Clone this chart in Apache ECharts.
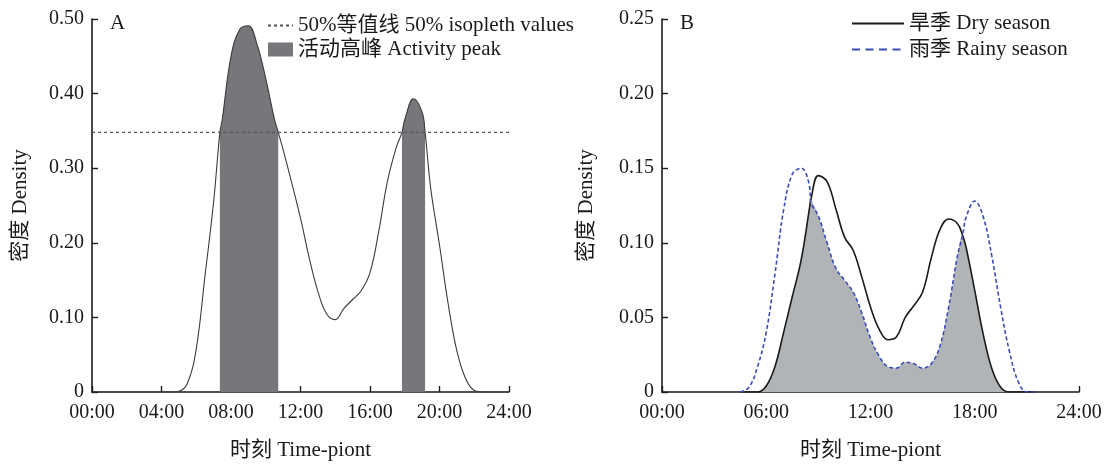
<!DOCTYPE html>
<html>
<head>
<meta charset="utf-8">
<script src="https://cdn.jsdelivr.net/npm/echarts@6/dist/echarts.min.js"></script>
<style>html,body{margin:0;padding:0;background:#fff;}#c{width:1109px;height:466px;}</style>
</head>
<body>
<div id="c"></div>
<script>
// ---------- Panel A data ----------
const hoursA = [0, 4.5, 5.0, 5.5, 6.0, 6.5, 7.0, 7.36, 7.5, 8.0, 8.5, 9.0, 9.5, 10.0, 10.5, 10.72, 11.0, 11.5, 12.0, 12.5, 13.0, 13.5, 14.0, 14.5, 15.0, 15.5, 16.0, 16.5, 17.0, 17.5, 17.84, 18.0, 18.5, 19.0, 19.17, 19.5, 20.0, 20.5, 21.0, 21.5, 22.0, 22.5, 24];
const densityA = [0, 0, 0.001, 0.012, 0.058, 0.155, 0.255, 0.348, 0.366, 0.45, 0.486, 0.491, 0.466, 0.42, 0.366, 0.348, 0.325, 0.28, 0.233, 0.18, 0.135, 0.105, 0.097, 0.112, 0.124, 0.136, 0.16, 0.215, 0.282, 0.327, 0.348, 0.365, 0.393, 0.375, 0.348, 0.272, 0.197, 0.118, 0.055, 0.018, 0.002, 0, 0];
const isoplethValue = 0.348;
const isoplethRange = [0, 24];
const peakBands = [[7.36, 10.72], [17.84, 19.17]];

// ---------- Panel B data ----------
const hoursB = [4.5, 5.0, 5.5, 6.0, 6.5, 7.0, 7.5, 8.0, 8.5, 8.55, 9.0, 9.5, 10.0, 10.5, 11.0, 11.5, 12.0, 12.5, 13.0, 13.5, 14.0, 14.5, 15.0, 15.5, 16.0, 16.5, 17.0, 17.3, 17.5, 18.0, 18.5, 19.0, 19.5, 20.0, 20.5, 21.0, 21.5];
const drySeason = [0, 0, 0, 0.004, 0.017, 0.040, 0.064, 0.088, 0.124, 0.128, 0.145, 0.141, 0.123, 0.104, 0.095, 0.077, 0.057, 0.042, 0.035, 0.037, 0.050, 0.058, 0.067, 0.090, 0.109, 0.116, 0.113, 0.105, 0.097, 0.068, 0.038, 0.015, 0.003, 0, 0, 0, 0];
const rainySeason = [0, 0.003, 0.017, 0.040, 0.079, 0.122, 0.146, 0.150, 0.137, 0.128, 0.118, 0.100, 0.083, 0.075, 0.067, 0.053, 0.036, 0.024, 0.017, 0.016, 0.020, 0.019, 0.016, 0.019, 0.031, 0.057, 0.091, 0.105, 0.117, 0.128, 0.117, 0.090, 0.056, 0.027, 0.007, 0, 0];

const xTickLabel = v => String(Math.round(v)).padStart(2, '0') + ':00';

const FONT = "'Liberation Serif', 'Times New Roman', 'Noto Sans CJK SC', serif";
const TXT = '#1a1a1a';

const seriesA = hoursA.map((h, i) => [h, densityA[i]]);
const bandData = peakBands.map(([a, b]) => seriesA.filter(p => p[0] >= a && p[0] <= b));
const dryData = hoursB.map((h, i) => [h, drySeason[i]]);
const rainyData = hoursB.map((h, i) => [h, rainySeason[i]]);
const overlapData = hoursB.map((h, i) => [h, Math.min(drySeason[i], rainySeason[i])]);

const NAME_ISO = '50%等值线 50% isopleth values';
const NAME_PEAK = '活动高峰 Activity peak';
const NAME_DRY = '旱季 Dry season';
const NAME_RAINY = '雨季 Rainy season';
const HIDE_SYMBOL = { color: 'rgba(0,0,0,0)', borderWidth: 0, opacity: 0 };

function xAxis(gridIndex, interval) {
  return {
    type: 'value', gridIndex, min: 0, max: 24, interval,
    name: '时刻 Time-piont', nameLocation: 'middle', nameGap: 48,
    nameTextStyle: { fontFamily: FONT, fontSize: 21, color: TXT },
    axisLine: { show: true, lineStyle: { color: '#1a1a1a', width: 1.6 } },
    axisTick: { show: true, inside: true, length: 6, lineStyle: { color: '#1a1a1a', width: 1.4 } },
    axisLabel: { formatter: xTickLabel, fontFamily: FONT, fontSize: 20, color: TXT, margin: 11 },
    splitLine: { show: false }
  };
}
function yAxis(gridIndex, max, interval, nameGap) {
  return {
    type: 'value', gridIndex, min: 0, max, interval,
    name: '密度 Density', nameLocation: 'middle', nameGap,
    nameTextStyle: { fontFamily: FONT, fontSize: 21, color: TXT },
    axisLine: { show: true, lineStyle: { color: '#1a1a1a', width: 1.6 } },
    axisTick: { show: true, inside: true, length: 6, lineStyle: { color: '#1a1a1a', width: 1.4 } },
    axisLabel: { formatter: v => v === 0 ? '0' : v.toFixed(2), fontFamily: FONT, fontSize: 20, color: TXT, margin: 8 },
    splitLine: { show: false }
  };
}

const chart = echarts.init(document.getElementById('c'), null, { renderer: 'canvas' });
chart.setOption({
  animation: false,
  backgroundColor: '#fff',
  title: [
    { text: 'A', left: 105, top: 8, textStyle: { fontFamily: FONT, fontSize: 21, fontWeight: 'normal', color: TXT } },
    { text: 'B', left: 675, top: 8, textStyle: { fontFamily: FONT, fontSize: 21, fontWeight: 'normal', color: TXT } }
  ],
  grid: [
    { left: 92, right: 600, top: 19, bottom: 71 },
    { left: 662, right: 30, top: 19, bottom: 71 }
  ],
  xAxis: [xAxis(0, 4), xAxis(1, 6)],
  yAxis: [yAxis(0, 0.5, 0.1, 61), yAxis(1, 0.25, 0.05, 65)],
  legend: [
    {
      orient: 'vertical', left: 267, top: 15, padding: 0, itemWidth: 25, itemHeight: 14, itemGap: 3,
      textStyle: { fontFamily: FONT, fontSize: 21, color: TXT },
      selectedMode: false,
      data: [
        { name: NAME_ISO, itemStyle: HIDE_SYMBOL },
        { name: NAME_PEAK, icon: 'rect' }
      ]
    },
    {
      orient: 'vertical', left: 851, top: 13, padding: 0, itemWidth: 52, itemHeight: 14, itemGap: 5,
      textStyle: { fontFamily: FONT, fontSize: 21, color: TXT },
      selectedMode: false,
      data: [
        { name: NAME_DRY, itemStyle: HIDE_SYMBOL },
        { name: NAME_RAINY, itemStyle: HIDE_SYMBOL, lineStyle: { type: [8, 5.5] } }
      ]
    }
  ],
  series: [
    ...bandData.map(d => ({
      name: NAME_PEAK, type: 'line', xAxisIndex: 0, yAxisIndex: 0,
      data: d, smooth: 0.4, symbol: 'none', color: '#77767b',
      itemStyle: { color: '#77767b' },
      lineStyle: { width: 0, opacity: 0 },
      areaStyle: { color: '#77767b', opacity: 1 }, z: 2
    })),
    {
      name: 'densityA', type: 'line', xAxisIndex: 0, yAxisIndex: 0,
      data: seriesA, smooth: 0.4, symbol: 'none',
      lineStyle: { color: '#3c3c3c', width: 1.1 }, z: 3
    },
    {
      name: NAME_ISO, type: 'line', xAxisIndex: 0, yAxisIndex: 0,
      data: isoplethRange.map(h => [h, isoplethValue]), symbol: 'none', color: '#555',
      lineStyle: { color: '#555', width: 1.2, type: [3, 3] }, z: 4
    },
    {
      name: 'overlap', type: 'line', xAxisIndex: 1, yAxisIndex: 1,
      data: overlapData, smooth: 0.4, symbol: 'none',
      lineStyle: { width: 0, opacity: 0 },
      areaStyle: { color: '#b1b4b7', opacity: 1 }, z: 2
    },
    {
      name: NAME_DRY, type: 'line', xAxisIndex: 1, yAxisIndex: 1,
      data: dryData, smooth: 0.4, symbol: 'none', color: '#1a1a1a',
      lineStyle: { color: '#1a1a1a', width: 1.6 }, z: 4
    },
    {
      name: NAME_RAINY, type: 'line', xAxisIndex: 1, yAxisIndex: 1,
      data: rainyData, smooth: 0.4, symbol: 'none', color: '#3b4cb8',
      lineStyle: { color: '#3b4cb8', width: 1.6, type: [4, 2.5] }, z: 5
    }
  ]
});
</script>
</body>
</html>
